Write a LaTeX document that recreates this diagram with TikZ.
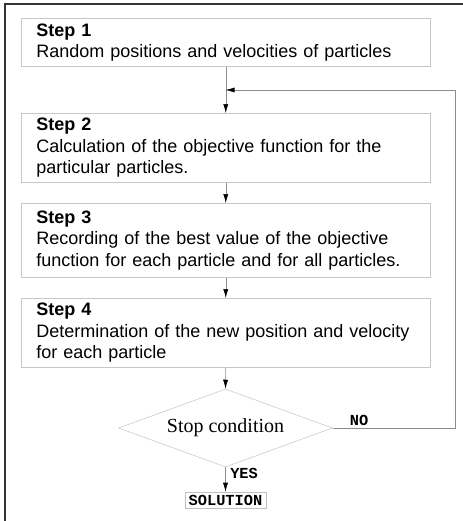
\documentclass[tikz,border=0pt]{standalone}
\usepackage{fontspec}
\usetikzlibrary{arrows.meta,shapes.geometric}
\newfontfamily\boxfont{Liberation Sans}
\newfontfamily\condfont{Liberation Serif}
\newfontfamily\labelfont{Liberation Mono}
\tikzset{
	stepbox/.style={draw=black!22, anchor=north west, minimum width=409*0.75pt, text width=379*0.75pt,
		inner xsep=15*0.75pt, inner ysep=0pt, align=left, font=\boxfont\fontsize{13.5}{16}\selectfont},
	stopbox/.style={draw=black!22, diamond, aspect=2.74, inner sep=0pt, minimum width=214*0.75pt,
		minimum height=78*0.75pt, font=\condfont\fontsize{15}{17}\selectfont},
	endbox/.style={draw=black!25, minimum width=81*0.75pt, minimum height=16*0.75pt, inner sep=1pt,
		font=\labelfont\bfseries\fontsize{11.5}{12}\selectfont},
	answer/.style={font=\labelfont\bfseries\fontsize{11.5}{12}\selectfont, inner sep=0pt},
	flow/.style={draw=black!45, -{Latex[black, length=9*0.75pt, width=5*0.75pt]}}
}
\begin{document}
\begin{tikzpicture}[x=0.75pt, y=-0.75pt]
			%%%%% START %%%%%
			\useasboundingbox (0, 0) rectangle (463, 521);
			
			\draw[line width=1.2pt, color=black!80] (5, 521) -- (5, 4) -- (463, 4);
			
			\node[stepbox, minimum height=48*0.75pt] (step1) at (21, 18)
				{\textbf{Step 1}\\Random positions and velocities of particles};
			\node[stepbox, minimum height=69*0.75pt] (step2) at (21, 113)
				{\textbf{Step 2}\\Calculation of the objective function for the\\particular particles.};
			\node[stepbox, minimum height=74*0.75pt] (step3) at (21, 203)
				{\textbf{Step 3}\\Recording of the best value of the objective\\function for each particle and for all particles.};
			\node[stepbox, minimum height=69*0.75pt] (step4) at (21, 298)
				{\textbf{Step 4}\\Determination of the new position and velocity\\for each particle};
			
			\node[stopbox] (stop) at (225.5, 428) {Stop condition};
			\node[endbox] (solution) at (225.5, 500) {SOLUTION};
			
			\coordinate (merge) at (225.5, 90);
			\coordinate (turnlow) at (455, 428);
			\coordinate (turnhigh) at (455, 90);
			
			\draw[flow] (step1.south) -- (step2.north);
			\draw[flow] (step2.south) -- (step3.north);
			\draw[flow] (step3.south) -- (step4.north);
			\draw[flow] (step4.south) -- (stop.north);
			\draw[flow] (stop.south) -- (solution.north);
			\draw[flow] (stop.east) -- (turnlow) -- (turnhigh) -- (merge);
			
			\node[answer, anchor=west] (yes) at (230, 473) {YES};
			\node[answer] (no) at (359, 420) {NO};
			
			%%%%% END %%%%%
		\end{tikzpicture}
\end{document}
